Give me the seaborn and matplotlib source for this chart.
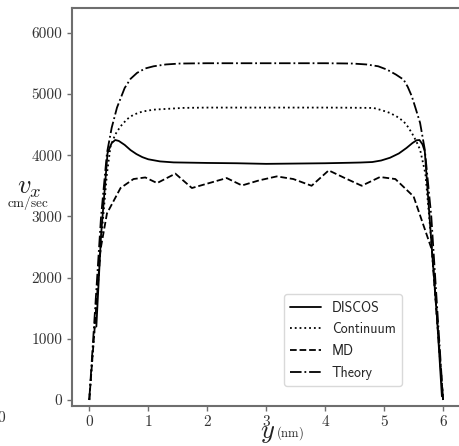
import numpy as np
import pandas as pd
import matplotlib
matplotlib.use("Agg")
import matplotlib.pyplot as plt
import seaborn as sns

# values
discos_y = [0.12, 0.2, 0.31, 0.38, 0.44, 0.5, 0.6, 0.7, 0.8, 0.9, 1.0, 1.2, 1.43, 2.0, 2.5, 3.0, 3.5,
            4.0, 4.42, 4.6, 4.8, 4.95, 5.1, 5.25, 5.38, 5.48, 5.55, 5.6, 5.65, 5.69, 5.8, 5.9, 5.98]
discos_v = [1200, 2700, 4037, 4200, 4250, 4235, 4170, 4085, 4020, 3970, 3935, 3900, 3884, 3875, 3870, 3860, 3865,
            3870, 3878, 3882, 3890, 3915, 3960, 4030, 4120, 4200, 4245, 4250, 4180, 4064, 2600, 1300, 60]

cont_y = [0.0, 0.1, 0.2, 0.3, 0.36, 0.44, 0.53, 0.64, 0.75, 0.9, 1.09, 1.6, 2.0, 3.0, 4.0, 4.4, 4.82, 4.95,
          5.10, 5.22, 5.33, 5.40, 5.47, 5.54, 5.61, 5.7, 5.8, 5.9, 6.0]
cont_v = [0, 1300, 2600, 3700, 4146, 4340, 4473, 4590, 4664, 4715, 4746, 4775, 4780, 4780, 4780, 4778, 4774, 4740,
          4692, 4630, 4555, 4470, 4365, 4240, 4092, 3700, 2600, 1300, 0]

md_y = [0.0, 0.19, 0.3, 0.53, 0.75, 0.95, 1.15, 1.46, 1.74, 2.03, 2.33, 2.59, 2.88, 3.18, 3.46, 3.77,
        4.06, 4.34, 4.62, 4.93, 5.19, 5.5, 5.81, 6.0]
md_v = [0, 2455, 3050, 3465, 3612, 3638, 3546, 3700, 3465, 3545, 3628, 3507, 3590, 3655, 3612, 3502,
        3753, 3625, 3502, 3645, 3612, 3327, 2455, 0]

theory_y = [0.0, 0.1, 0.2, 0.3, 0.38, 0.47, 0.6, 0.7, 0.81, 0.95, 1.09, 1.3, 1.54, 2.0, 3.0, 4.0, 4.46, 4.7,
            4.9, 5.05, 5.2, 5.33, 5.40, 5.47, 5.53, 5.61, 5.69, 5.8, 5.9, 6.0]
theory_v = [0, 1500, 3000, 4037, 4450, 4780, 5100, 5250, 5347, 5420, 5455, 5485, 5500, 5505, 5505, 5505, 5500, 5485,
            5455, 5400, 5320, 5237, 5120, 4964, 4780, 4530, 4092, 3000, 1500, 0]

sns.set_style("ticks")
plt.rcParams["mathtext.fontset"] = "cm"
plt.rcParams["axes.edgecolor"] = "#6e6e6e"
plt.rcParams["axes.linewidth"] = 1.5

fig = plt.figure(figsize=(4.59, 4.46), dpi=100)
ax = fig.add_axes([0.1575, 0.0904, 0.8425, 0.8910])

sns.lineplot(x=discos_y, y=discos_v, ax=ax, color="k", lw=1.3, linestyle="-", label="DISCOS")
sns.lineplot(x=cont_y, y=cont_v, ax=ax, color="k", lw=1.3, linestyle=":", label="Continuum")
sns.lineplot(x=md_y, y=md_v, ax=ax, color="k", lw=1.3, linestyle="--", label="MD")
sns.lineplot(x=theory_y, y=theory_v, ax=ax, color="k", lw=1.3, linestyle="-.", label="Theory")

ax.set_xlim(-0.288, 6.27)
ax.set_ylim(-93, 6403)
ax.set_xticks([0, 1, 2, 3, 4, 5, 6])
ax.set_yticks([0, 1000, 2000, 3000, 4000, 5000, 6000])
ax.spines["right"].set_visible(False)
ax.tick_params(length=3.5, width=1.0, color="#6e6e6e", labelcolor="#333333", labelsize=11)
for lab in ax.get_xticklabels() + ax.get_yticklabels():
    lab.set_family("cmr10")
ax.set_xlabel("")
ax.set_ylabel("")

# axis titles
fig.text(0.063, 0.567, r"$v_x$", fontsize=19, ha="center", va="baseline", color="#222222")
fig.text(0.060, 0.535, r"$\mathrm{cm/sec}$", fontsize=9.5, ha="center", va="baseline", color="#222222")
fig.text(0.583, 0.019, r"$y$", fontsize=19, ha="center", va="baseline", color="#222222")
fig.text(0.632, 0.020, r"$\mathrm{(nm)}$", fontsize=9, ha="center", va="baseline", color="#222222")
fig.text(0.003, 0.063, "0", fontsize=11, family="cmr10", ha="center", va="center", color="#333333")

leg = ax.legend(loc="lower right", bbox_to_anchor=(0.852, 0.05), borderaxespad=0,
                prop={"family": "cmss10", "size": 10},
                handlelength=2.2, labelspacing=0.55, handletextpad=0.8,
                borderpad=0.45, frameon=True)
leg.get_frame().set_edgecolor("#d0d0d0")

fig.savefig("out.png", dpi=100)
